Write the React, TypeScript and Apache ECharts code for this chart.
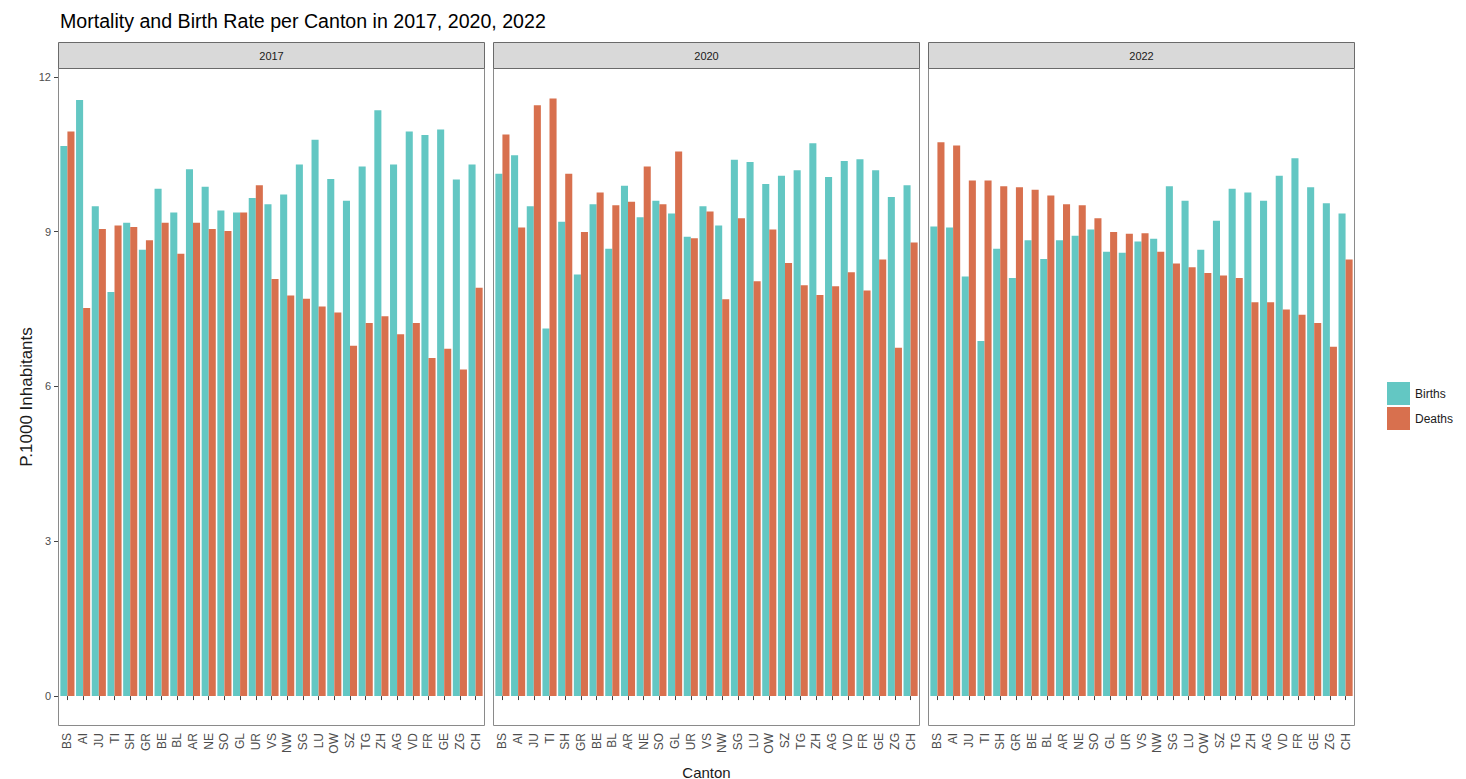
import React, { useEffect, useRef } from "react";
import * as echarts from "echarts";

const categories = ["BS","AI","JU","TI","SH","GR","BE","BL","AR","NE","SO","GL","UR","VS","NW","SG","LU","OW","SZ","TG","ZH","AG","VD","FR","GE","ZG","CH"];
const years = ["2017", "2020", "2022"];
const yTicks = [0, 3, 6, 9, 12];

const births2017 = [10.66, 11.55, 9.49, 7.83, 9.17, 8.65, 9.83, 9.37, 10.21, 9.87, 9.41, 9.37, 9.65, 9.53, 9.72, 10.30, 10.78, 10.02, 9.60, 10.26, 11.35, 10.30, 10.94, 10.87, 10.98, 10.01, 10.30];
const deaths2017 = [10.94, 7.52, 9.05, 9.12, 9.09, 8.83, 9.17, 8.57, 9.17, 9.05, 9.01, 9.37, 9.90, 8.08, 7.76, 7.70, 7.55, 7.43, 6.79, 7.23, 7.36, 7.01, 7.23, 6.55, 6.73, 6.33, 7.91];
const births2020 = [10.12, 10.48, 9.49, 7.12, 9.19, 8.17, 9.53, 8.67, 9.89, 9.28, 9.60, 9.35, 8.90, 9.49, 9.12, 10.39, 10.35, 9.92, 10.08, 10.19, 10.71, 10.06, 10.37, 10.40, 10.19, 9.67, 9.90];
const deaths2020 = [10.88, 9.08, 11.45, 11.58, 10.12, 8.99, 9.76, 9.51, 9.58, 10.26, 9.53, 10.55, 8.87, 9.39, 7.69, 9.26, 8.04, 9.04, 8.39, 7.96, 7.77, 7.94, 8.21, 7.86, 8.46, 6.75, 8.79];
const births2022 = [9.10, 9.08, 8.13, 6.88, 8.67, 8.10, 8.83, 8.47, 8.83, 8.92, 9.04, 8.61, 8.59, 8.81, 8.86, 9.88, 9.60, 8.65, 9.21, 9.83, 9.76, 9.60, 10.08, 10.42, 9.86, 9.55, 9.35];
const deaths2022 = [10.73, 10.67, 9.99, 9.99, 9.88, 9.86, 9.81, 9.70, 9.53, 9.51, 9.26, 8.99, 8.96, 8.97, 8.61, 8.38, 8.31, 8.20, 8.15, 8.10, 7.63, 7.63, 7.49, 7.39, 7.23, 6.77, 8.46];

const birthsByYear = [births2017, births2020, births2022];
const deathsByYear = [deaths2017, deaths2020, deaths2022];

const BIRTH_COLOR = "#63c7c3";
const DEATH_COLOR = "#d8704e";
const FONT = "Liberation Sans, Arial, Helvetica, sans-serif";

export default function App() {
  const ref = useRef<HTMLDivElement>(null);

  useEffect(() => {
    document.body.style.margin = "0";
    const chart = echarts.init(ref.current!, null, { renderer: "svg" });

    const panelLefts = [58, 493, 928];
    const panelWidth = 427;
    const panelTop = 68;
    const panelBottom = 726;
    const stripTop = 42;
    const inset = panelWidth * 0.1 / 27.2;

    const grids = panelLefts.map((l) => ({
      left: l + inset,
      width: panelWidth - 2 * inset,
      top: panelTop,
      height: panelBottom - panelTop,
      show: false,
      containLabel: false,
    }));

    const xAxes = years.map((_, i) => ({
      type: "category",
      gridIndex: i,
      data: categories,
      axisLine: { show: false },
      axisTick: { show: true, alignWithLabel: true, length: 4, lineStyle: { color: "#444" } },
      axisLabel: {
        rotate: 90,
        fontSize: 12,
        color: "#4d4d4d",
        fontFamily: FONT,
        margin: 7,
        interval: 0,
      },
      splitLine: { show: false },
    }));

    const yAxes = years.map((_, i) => ({
      type: "value",
      gridIndex: i,
      min: -0.58,
      max: 12.17,
      offset: inset,
      axisLine: { show: false },
      axisTick: {
        show: i === 0,
        length: 4,
        lineStyle: { color: "#444" },
        customValues: yTicks,
      },
      axisLabel: {
        show: i === 0,
        fontSize: 11,
        color: "#4d4d4d",
        fontFamily: FONT,
        margin: 7,
        customValues: yTicks,
      },
      splitLine: { show: false },
      name: i === 0 ? "P.1000 Inhabitants" : "",
      nameLocation: "middle",
      nameGap: 17,
      nameRotate: 90,
      nameTextStyle: { fontSize: 17, color: "#1a1a1a", fontFamily: FONT },
    }));

    const series: any[] = [];
    years.forEach((_, i) => {
      series.push({
        type: "bar",
        name: "Births",
        xAxisIndex: i,
        yAxisIndex: i,
        data: birthsByYear[i],
        itemStyle: { color: BIRTH_COLOR },
        barGap: "0%",
        barCategoryGap: "10%",
      });
      series.push({
        type: "bar",
        name: "Deaths",
        xAxisIndex: i,
        yAxisIndex: i,
        data: deathsByYear[i],
        itemStyle: { color: DEATH_COLOR },
        barGap: "0%",
        barCategoryGap: "10%",
      });
    });

    const graphics: any[] = [];
    panelLefts.forEach((l, i) => {
      graphics.push({
        type: "rect",
        shape: { x: l + 0.5, y: panelTop + 0.5, width: panelWidth - 1, height: panelBottom - panelTop - 1 },
        style: { fill: "none", stroke: "#8a8a8a", lineWidth: 1 },
        silent: true,
        z: 10,
      });
      graphics.push({
        type: "rect",
        shape: { x: l + 0.5, y: stripTop + 0.5, width: panelWidth - 1, height: panelTop - stripTop },
        style: { fill: "#d9d9d9", stroke: "#6a6a6a", lineWidth: 1 },
        z: 10,
      });
      graphics.push({
        type: "text",
        x: l + panelWidth / 2,
        y: (stripTop + panelTop) / 2 + 1,
        style: {
          text: years[i],
          fill: "#1a1a1a",
          font: `11px ${FONT}`,
          align: "center",
          verticalAlign: "middle",
        },
        z: 11,
      });
    });
    graphics.push({
      type: "text",
      x: (panelLefts[0] + panelLefts[2] + panelWidth) / 2,
      y: 772,
      style: {
        text: "Canton",
        fill: "#1a1a1a",
        font: `15px ${FONT}`,
        align: "center",
        verticalAlign: "middle",
      },
    });

    chart.setOption({
      animation: false,
      backgroundColor: "#ffffff",
      title: {
        text: "Mortality and Birth Rate per Canton in 2017, 2020, 2022",
        left: 55,
        top: 6,
        textStyle: { fontSize: 19.6, fontWeight: "normal", color: "#000", fontFamily: FONT },
      },
      legend: {
        data: ["Births", "Deaths"],
        orient: "vertical",
        left: 1382,
        top: 377,
        itemWidth: 23,
        itemHeight: 23,
        itemGap: 2,
        icon: "rect",
        textStyle: { fontSize: 12, color: "#1a1a1a", fontFamily: FONT },
        selectedMode: false,
      },
      grid: grids,
      xAxis: xAxes,
      yAxis: yAxes,
      series,
      graphic: graphics,
    });

    return () => chart.dispose();
  }, []);

  return (
    <div
      ref={ref}
      style={{ position: "absolute", left: 0, top: 0, width: 1466, height: 779 }}
    />
  );
}
